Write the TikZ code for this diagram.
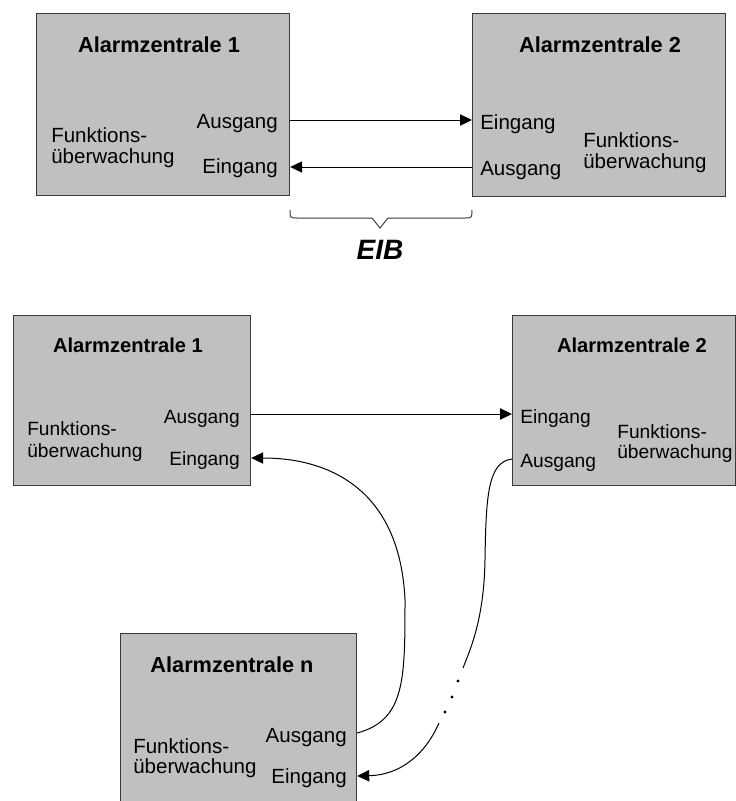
\documentclass[tikz,border=0pt]{standalone}
\usepackage{fontspec}
\setmainfont{Liberation Sans}
\usetikzlibrary{arrows.meta}
\definecolor{boxfill}{HTML}{C0C0C0}
\definecolor{boxline}{HTML}{3A3A3A}
\tikzset{
  box/.style={draw=boxline, fill=boxfill, line width=0.9pt, anchor=north west, inner sep=0pt},
  lbl/.style={inner sep=0pt, font=\fontsize{15.4}{18}\selectfont},
  ttl/.style={inner sep=0pt, anchor=base, font=\fontsize{16.3}{18}\selectfont\bfseries},
  lbls/.style={inner sep=0pt, font=\fontsize{14.4}{17}\selectfont},
  ttls/.style={inner sep=0pt, anchor=base, font=\fontsize{15.1}{17}\selectfont\bfseries},
  arr/.style={draw=black, line width=0.75pt, -{Triangle[length=9pt,width=8.5pt]}},
  wire/.style={draw=black, line width=0.75pt},
  dotm/.style={fill=black, circle, inner sep=0pt, minimum size=2.4pt}
}
\begin{document}
\begin{tikzpicture}[x=0.75pt, y=-0.75pt]
\useasboundingbox (0,0) rectangle (736,801);

% ---------- top diagram ----------
\node[box, minimum width=253*0.75pt, minimum height=182*0.75pt] (b1) at (36,13) {};
\node[box, minimum width=253*0.75pt, minimum height=183*0.75pt] (b2) at (472,13) {};

\node[ttl] (b1t) at (159,52) {Alarmzentrale 1};
\node[lbl, anchor=base east] (b1o) at (278,128) {Ausgang};
\node[lbl, anchor=base east] (b1i) at (278,173) {Eingang};
\node[lbl, anchor=base west] (b1f) at (51,142) {Funktions-};
\node[lbl, anchor=base west] (b1u) at (51,163) {überwachung};

\node[ttl] (b2t) at (600,52) {Alarmzentrale 2};
\node[lbl, anchor=base west] (b2i) at (480,129) {Eingang};
\node[lbl, anchor=base west] (b2o) at (480,175) {Ausgang};
\node[lbl, anchor=base west] (b2f) at (583,147) {Funktions-};
\node[lbl, anchor=base west] (b2u) at (583,168) {überwachung};

\draw[arr] (b1.east |- 0,120) -- (b2.west |- 0,120);
\draw[arr] (b2.west |- 0,167) -- (b1.east |- 0,167);

% brace
\coordinate (brL) at (290,210);
\coordinate (brR) at (472,210);
\draw[draw=boxline, line width=0.75pt] (brL) .. controls (290,218) .. (298,218) -- (372,218) -- (380,228) -- (388,218) -- (464,218) .. controls (472,218) .. (brR);
\node[inner sep=0pt, font=\fontsize{21}{24}\selectfont\bfseries\itshape] (eib) at (380,250) {EIB};

% ---------- bottom diagram ----------
\node[box, minimum width=237*0.75pt, minimum height=170*0.75pt] (b3) at (13,315) {};
\node[box, minimum width=223*0.75pt, minimum height=170*0.75pt] (b4) at (512,315) {};
\node[box, minimum width=236*0.75pt, minimum height=185*0.75pt] (b5) at (120,633) {};

\node[ttls] (b3t) at (128,352) {Alarmzentrale 1};
\node[lbls, anchor=base east] (b3o) at (240,423) {Ausgang};
\node[lbls, anchor=base east] (b3i) at (240,465) {Eingang};
\node[lbls, anchor=base west] (b3f) at (27,435) {Funktions-};
\node[lbls, anchor=base west] (b3u) at (27,457) {überwachung};

\node[ttls] (b4t) at (632,352) {Alarmzentrale 2};
\node[lbls, anchor=base west] (b4i) at (520,423) {Eingang};
\node[lbls, anchor=base west] (b4o) at (520,467) {Ausgang};
\node[lbls, anchor=base west] (b4f) at (617,438) {Funktions-};
\node[lbls, anchor=base west] (b4u) at (617,458) {überwachung};

\node[ttl] (b5t) at (232,672) {Alarmzentrale n};
\node[lbl, anchor=base east] (b5o) at (347,742) {Ausgang};
\node[lbl, anchor=base east] (b5i) at (347,783) {Eingang};
\node[lbl, anchor=base west] (b5f) at (133,753) {Funktions-};
\node[lbl, anchor=base west] (b5u) at (133,773) {überwachung};

\draw[arr] (b3.east |- 0,414) -- (b4.west |- 0,414);

% n Ausgang -> 1 Eingang
\draw[arr] (b5.east |- 0,733) .. controls (405,720) and (405,680) .. (405,600)
  .. controls (400,490) and (330,458) .. (b3.east |- 0,458);

% 2 Ausgang -> ... -> n Eingang
\coordinate (gapA) at (463,668);
\coordinate (gapB) at (439,723);
\draw[wire] (b4.west |- 0,459) .. controls (488,462) and (486,495) .. (485,560)
  .. controls (484,620) and (470,650) .. (gapA);
\node[dotm] (d1) at (458,681) {};
\node[dotm] (d2) at (452,697) {};
\node[dotm] (d3) at (445,712) {};
\draw[arr] (gapB) .. controls (425,755) and (400,775) .. (b5.east |- 0,776);
\end{tikzpicture}
\end{document}
